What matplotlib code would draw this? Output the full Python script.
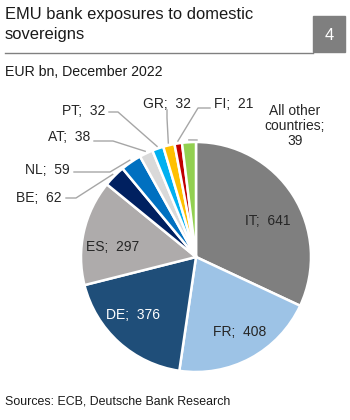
import numpy as np
import matplotlib.pyplot as plt
from matplotlib.patches import Rectangle
from matplotlib.lines import Line2D

plt.rcParams['font.family'] = ['Liberation Sans', 'DejaVu Sans']

# data
countries = ['IT', 'FR', 'DE', 'ES', 'BE', 'NL', 'AT', 'PT', 'GR', 'FI', 'All other\ncountries']
values = [641, 408, 376, 297, 62, 59, 38, 32, 32, 21, 39]
colors = ['#7F7F7F', '#9DC3E6', '#1F4E79', '#AEABAB', '#002060', '#0070C0',
          '#D9D9D9', '#00B0F0', '#FFC000', '#C00000', '#92D050']

# pie placement in pixels
CX, CY, R = 196, 257, 115


def to(px, py):
    return ((px - CX) / R, (CY - py) / R)


fig = plt.figure(figsize=(3.5, 4.2), dpi=100)
ax = fig.add_axes([0, 30 / 420, 1, 300 / 420])
ax.axis('off')

wedges, _ = ax.pie(values, colors=colors, startangle=90, counterclock=False,
                   radius=1, wedgeprops=dict(edgecolor='white', linewidth=1.8),
                   frame=False)
ax.set_xlim(-CX / R, (350 - CX) / R)
ax.set_ylim((CY - 390) / R, (CY - 90) / R)


def edge(i, r=1.0):
    w = wedges[i]
    a = np.deg2rad((w.theta1 + w.theta2) / 2)
    return (r * np.cos(a), r * np.sin(a))


FS = 10
# labels inside big slices: (pixel position, text colour)
inner = {0: ((268, 221), '#262626'), 1: ((240, 332), '#262626'),
         2: ((133, 315), 'white'), 3: ((113, 247), '#262626')}
for i, ((px, py), c) in inner.items():
    ax.text(*to(px, py), f'{countries[i]};  {values[i]}', color=c,
            fontsize=FS, ha='center', va='center')

# outside labels: text pos, alignment, leader elbow (pixels)
outer = {
    4: ((62, 198), 'right', [(66, 198), (76, 198)]),
    5: ((70, 170), 'right', [(74, 172), (110, 172)]),
    6: ((90, 137), 'right', [(94, 141), (113, 141)]),
    7: ((105, 111), 'right', [(109, 112), (118, 112)]),
    8: ((167, 104), 'center', [(167, 110), (167, 118)]),
    9: ((234, 104), 'center', [(210, 108), (198, 108)]),
}
col_line = '#A6A6A6'
for i, ((px, py), ha, pts) in outer.items():
    ax.text(*to(px, py), f'{countries[i]};  {values[i]}', color='#262626',
            fontsize=FS, ha=ha, va='center')
    xy = [to(*p) for p in pts] + [edge(i, 1.02)]
    ax.plot([p[0] for p in xy], [p[1] for p in xy], color=col_line, lw=1)

ax.text(*to(295, 126), f'{countries[10]};\n{values[10]}', color='#262626',
        fontsize=FS, ha='center', va='center', linespacing=1.1)
xy = [edge(10, 1.02), to(197, 140)]
ax.plot([p[0] for p in xy], [p[1] for p in xy], color=col_line, lw=1)

# header
fig.text(5 / 350, 1 - 15 / 420, 'EMU bank exposures to domestic',
         fontsize=11.9, color='#1A1A1A', ha='left', va='center')
fig.text(5 / 350, 1 - 35 / 420, 'sovereigns',
         fontsize=11.9, color='#1A1A1A', ha='left', va='center')
fig.add_artist(Line2D([5 / 350, 313 / 350], [1 - 53 / 420, 1 - 53 / 420],
                      color='#808080', lw=1, transform=fig.transFigure))
fig.add_artist(Rectangle((313 / 350, 1 - 52 / 420), 32 / 350, 36 / 420,
                         color='#7F7F7F', transform=fig.transFigure))
fig.text(329 / 350, 1 - 35 / 420, '4', color='white', fontsize=11.9,
         ha='center', va='center')
fig.text(5 / 350, 1 - 72 / 420, 'EUR bn, December 2022',
         fontsize=10.2, color='#1A1A1A', ha='left', va='center')
fig.text(5 / 350, 1 - 401 / 420, 'Sources: ECB, Deutsche Bank Research',
         fontsize=8.9, color='#1A1A1A', ha='left', va='center')

fig.savefig('out.png', dpi=100, facecolor='white')
